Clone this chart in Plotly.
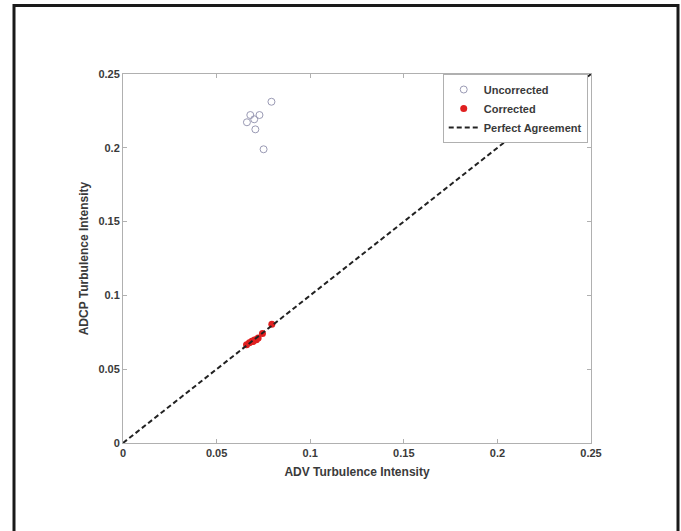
import plotly.graph_objects as go

# Data
adv_uncorrected = [0.0793, 0.0680, 0.0729, 0.0662, 0.0701, 0.0707, 0.0751]
adcp_uncorrected = [0.2312, 0.2222, 0.2222, 0.2173, 0.2193, 0.2125, 0.1990]

adv_corrected = [0.0660, 0.0675, 0.0688, 0.0695, 0.0702, 0.0712, 0.0722, 0.0745, 0.0795]
adcp_corrected = [0.0665, 0.0680, 0.0690, 0.0688, 0.0698, 0.0700, 0.0712, 0.0742, 0.0805]

agree_x = [0, 0.25]
agree_y = [0, 0.25]

tick_vals = [0, 0.05, 0.1, 0.15, 0.2, 0.25]
tick_text = ["<b>0</b>", "<b>0.05</b>", "<b>0.1</b>", "<b>0.15</b>", "<b>0.2</b>", "<b>0.25</b>"]

font_family = "Liberation Sans, Arial, sans-serif"
text_color = "#3a3a3a"
axis_color = "#b0b0b0"

fig = go.Figure()
fig.add_trace(go.Scatter(
    x=adv_uncorrected, y=adcp_uncorrected, mode="markers", name="<b>Uncorrected</b>",
    marker=dict(symbol="circle-open", size=7, color="#9a9ab4", line=dict(width=1)),
))
fig.add_trace(go.Scatter(
    x=adv_corrected, y=adcp_corrected, mode="markers", name="<b>Corrected</b>",
    marker=dict(symbol="circle", size=7, color="#e02020"),
))
fig.add_trace(go.Scatter(
    x=agree_x, y=agree_y, mode="lines", name="<b>Perfect Agreement</b>",
    line=dict(color="#222222", width=2, dash="5px,3px"),
))

axis_common = dict(
    range=[0, 0.25], tickvals=tick_vals, ticktext=tick_text,
    showgrid=False, zeroline=False, showline=True, linecolor=axis_color,
    linewidth=1, mirror="ticks", ticks="inside", ticklen=4, tickcolor=axis_color,
    tickfont=dict(family=font_family, size=11, color=text_color),
)

fig.update_layout(
    width=681, height=531,
    margin=dict(l=123, r=90, t=74, b=88),
    paper_bgcolor="white", plot_bgcolor="white",
    font=dict(family=font_family, size=11, color=text_color),
    xaxis=dict(axis_common, title=dict(text="<b>ADV Turbulence Intensity</b>",
                                       font=dict(size=12, color=text_color), standoff=9)),
    yaxis=dict(axis_common, title=dict(text="<b>ADCP Turbulence Intensity</b>",
                                       font=dict(size=12, color=text_color), standoff=7)),
    legend=dict(
        x=0.993, y=1, xanchor="right", yanchor="top",
        bgcolor="white", bordercolor=axis_color, borderwidth=1,
        font=dict(family=font_family, size=11, color=text_color),
        tracegroupgap=0, itemwidth=30,
    ),
    showlegend=True,
    shapes=[dict(
        type="rect", xref="paper", yref="paper",
        x0=-0.2329, x1=1.1859, y0=-0.27, y1=1.1856,
        line=dict(color="#1a1a1a", width=3), fillcolor="rgba(0,0,0,0)",
        layer="below",
    )],
)

fig.write_html("out.html", config={"displayModeBar": False},
               post_script="document.body.style.margin='0';")
